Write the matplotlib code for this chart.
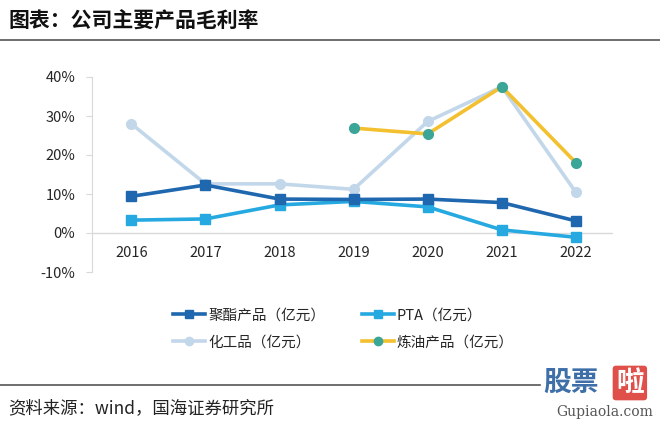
import matplotlib
matplotlib.use("Agg")
import matplotlib.pyplot as plt
from matplotlib.lines import Line2D

plt.rcParams['font.family'] = ['Noto Sans CJK SC', 'DejaVu Sans']

years = ['2016', '2017', '2018', '2019', '2020', '2021', '2022']
polyester = [9.4, 12.3, 8.7, 8.6, 8.7, 7.8, 3.1]
pta = [3.3, 3.6, 7.2, 8.1, 6.7, 0.8, -1.1]
chem = [28.0, 12.6, 12.6, 11.2, 28.6, 37.5, 10.4]
refine_years = ['2019', '2020', '2021', '2022']
refine = [26.9, 25.4, 37.5, 18.0]
yticks = [-10, 0, 10, 20, 30, 40]
labels = ['聚酯产品（亿元）', 'PTA（亿元）', '化工品（亿元）', '炼油产品（亿元）']

W, H = 660, 425
fig = plt.figure(figsize=(W/100, H/100), dpi=100)
ax = fig.add_axes([92/W, 1-272/H, (613-92)/W, (272-77)/H])

x = list(range(len(years)))
xr = [years.index(y) for y in refine_years]

c_poly = '#1F67AE'
c_pta = '#26A9E0'
c_chem = '#C3D7EA'
c_ref = '#F3C02F'
c_refm = '#3BA597'

l3, = ax.plot(x, chem, color=c_chem, lw=2.6, marker='o', ms=7, mfc=c_chem, mec=c_chem, zorder=2)
l4, = ax.plot(xr, refine, color=c_ref, lw=2.6, marker='o', ms=7, mfc=c_refm, mec=c_refm, zorder=3)
l2, = ax.plot(x, pta, color=c_pta, lw=2.6, marker='s', ms=7, mfc=c_pta, mec=c_pta, zorder=4)
l1, = ax.plot(x, polyester, color=c_poly, lw=2.6, marker='s', ms=7, mfc=c_poly, mec=c_poly, zorder=5)

ax.set_xlim(-0.53, 6.5)
ax.set_ylim(-10, 40)
ax.set_yticks(yticks)
ax.set_yticklabels([f'{v}%' for v in yticks], fontsize=10.5, color='#262626')
ax.tick_params(axis='y', length=4, color='#D9D9D9', pad=8)
ax.set_xticks([])
for s in ['top', 'right', 'bottom']:
    ax.spines[s].set_visible(False)
ax.spines['left'].set_color('#D9D9D9')
ax.axhline(0, color='#D9D9D9', lw=1, zorder=1)
for i, yl in enumerate(years):
    ax.text(i, -5.1, yl, ha='center', va='center', fontsize=10.5, color='#262626')

# legend: row 1 = 聚酯, PTA ; row 2 = 化工品, 炼油 (matplotlib fills columns first)
handles = [l1, l3, l2, l4]
leg_labels = [labels[0], labels[2], labels[1], labels[3]]
leg = fig.legend(handles, leg_labels, loc='upper left', bbox_to_anchor=(160/W, 1-295/H),
                 ncol=2, frameon=False, fontsize=10.5, columnspacing=2.5,
                 handlelength=2.2, handletextpad=0.2, labelspacing=0.92)
for t in leg.get_texts():
    t.set_color('#262626')
for h in leg.legend_handles:
    h.set_markersize(6)

# title & frame lines
fig.text(8/W, 1-21/H, '图表：公司主要产品毛利率', fontsize=15, fontweight='bold',
         ha='left', va='center', color='#111111')
fig.add_artist(Line2D([0, 1], [1-40/H, 1-40/H], color='#555555', lw=1.2))
fig.add_artist(Line2D([0, 540/W], [1-385/H, 1-385/H], color='#555555', lw=1.2))
fig.text(8/W, 1-408/H, '资料来源：wind，国海证券研究所', fontsize=12.5,
         ha='left', va='center', color='#222222')

# watermark
fig.text(543/W, 1-383/H, '股票', fontsize=20, fontweight='bold', color='#3F6FA8',
         ha='left', va='center')
fig.text(616/W, 1-383/H, '啦', fontsize=20, fontweight='bold', color='white',
         ha='left', va='center',
         bbox=dict(boxstyle='round,pad=0.12', fc='#E0504A', ec='none'))
fig.text(605/W, 1-412/H, 'Gupiaola.com', fontsize=10, color='#555555',
         ha='center', va='center', family='DejaVu Serif')

fig.savefig('out.png', dpi=100)
